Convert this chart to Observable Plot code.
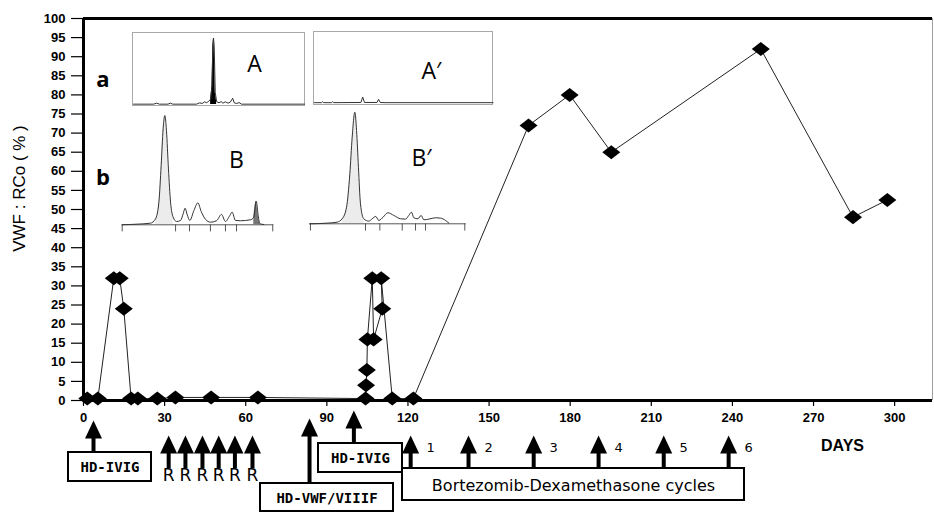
<!DOCTYPE html>
<html><head><meta charset="utf-8">
<script src="https://cdn.jsdelivr.net/npm/d3@7"></script>
<script src="https://cdn.jsdelivr.net/npm/@observablehq/plot@0.6"></script>
<style>
body{margin:0;background:#fff;}
#wrap{position:relative;width:934px;height:518px;overflow:hidden;background:#fff;}
#wrap > svg{position:absolute;left:0;top:0;}
.inset{position:absolute;box-sizing:border-box;}
.inset svg{display:block;background:transparent;}
.boxed{border:1px solid #a9a9a9;}
</style></head>
<body><div id="wrap"></div>
<script>
// ---------- main series ----------
const days   = [1.4, 5.3, 11.2, 13.4, 14.9, 17.6, 20.1, 27.3, 34, 47.2, 64.5,
                104.3, 104.5, 104.8, 105, 106.8, 107.3, 110.5, 110.1, 114.2, 122,
                164.6, 179.8, 195.2, 250.5, 284.6, 297.3];
const vwfRCo = [0.5, 0.5, 32, 32, 24, 0.5, 0.5, 0.5, 0.8, 0.8, 0.8,
                0.5, 4, 8, 16, 32, 16, 24, 32, 0.5, 0.5,
                72, 80, 65, 92, 48, 52.5];
const yTicks = d3.range(0, 101, 5);
const xTicks = d3.range(0, 301, 30);

// ---------- treatments ----------
const ivigDays = [3.7, 100];
const rituximabDays = [31.5, 37.7, 44, 50, 56, 62.5];
const vwfConcentrateDays = [83.6];
const bortezomibDays = [121, 142.4, 166.5, 190.5, 214.6, 238.6];
const cycleLabels = ["1", "2", "3", "4", "5", "6"];
const boxLabels = ["HD-IVIG", "HD-VWF/VIIIF", "HD-IVIG", "Bortezomib-Dexamethasone cycles"];

// ---------- inset densitometry traces (mobility, intensity) ----------
const traceA_m = [0, 11.7, 13.6, 15.1, 20.2, 21.5, 23, 36.8, 38.7, 40.2, 41.5, 42.9, 44, 45.1, 45.9, 46.4, 46.8, 47.2, 47.8, 48.6, 50, 51.2, 52.3, 53.8, 55.3, 56.6, 58, 58.9, 60.4, 61.7, 63.2, 100];
const traceA_i = [0.5, 0.5, 2, 0.5, 0.5, 2, 0.5, 0.5, 2.5, 1.5, 4, 2.5, 5.4, 7.4, 28, 87.6, 100, 87.6, 18.3, 4.5, 2.5, 4.5, 2, 4, 2, 3.5, 9.4, 2.5, 1.5, 3, 0.5, 0.5];
const traceA2_m = [0, 4, 4.6, 5.2, 9.6, 10.2, 10.8, 26, 27, 28, 35, 35.9, 36.8, 40, 100];
const traceA2_i = [0.5, 0.5, 2, 0.5, 0.5, 2, 0.5, 0.8, 9, 0.8, 0.8, 5.5, 0.8, 0.5, 0.5];
const traceB_m = [0, 9.9, 18.7, 22, 24.2, 25.7, 27, 28.1, 29.2, 30.5, 31.9, 33.6, 35.8, 38.5, 40.2, 41.5, 42.9, 44.6, 47.3, 49.9, 52.1, 55, 58.2, 62.2, 65.5, 68.1, 71, 72.5, 74.7, 78, 84.6, 86.8, 88.4, 89.7, 90.8, 93.4];
const traceB_i = [0, 0.6, 1.5, 5.5, 20.7, 54.3, 87.8, 100, 86.3, 51.2, 20.7, 7, 3, 4, 10, 15.2, 9.1, 4, 13.1, 20.1, 12.2, 4.9, 2.4, 3.7, 9.5, 3, 8.5, 11.6, 4, 3.7, 4.6, 7, 21.6, 8.5, 0.9, 0.3];
const traceB_ticks = [0, 35.2, 44.4, 58.2, 68.1, 75.4, 99.3];
const traceB2_m = [0, 11.1, 17.5, 20.7, 23.5, 25.6, 27.1, 28.8, 29.9, 31.1, 32.4, 34.5, 37.7, 39.9, 42.2, 44.1, 46.9, 49.9, 53.7, 58, 61.2, 63.3, 65, 66.5, 69.1, 71.2, 72.9, 76.1, 80.4, 83.6, 86.8, 88.9];
const traceB2_i = [0, 0.6, 1.5, 4.5, 14.9, 44.8, 77.6, 100, 83.6, 50.7, 17.9, 4.5, 2.4, 4.5, 6.6, 3, 6, 9.9, 7.5, 4.5, 4.2, 7.5, 10.4, 5.4, 4.5, 7.5, 3.6, 4.2, 5.4, 5.1, 3, 0.6];
const traceB2_ticks = [0.4, 35.6, 44.8, 59.1, 67.6, 74, 99.1];

// ---------- layout ----------
const W = 934, H = 518, ML = 83, MR = 2, MT = 18, MB = 118;
const XMAX = 314;
const sx = (W - ML - MR) / XMAX;
const sy = (H - MT - MB) / 100;
const dayAt = px => (px - ML) / sx;
const valAt = py => (H - MB - py) / sy;

const series = days.map((d, i) => ({day: d, v: vwfRCo[i]}));

const diamond = {draw(ctx, size) {
  const r = Math.sqrt(size / Math.PI), h = r * 0.78;
  ctx.moveTo(0, -h); ctx.lineTo(r, 0); ctx.lineTo(0, h); ctx.lineTo(-r, 0); ctx.closePath();
}};
const head = {draw(ctx) {
  ctx.moveTo(0, 0); ctx.lineTo(8.5, 18); ctx.lineTo(-8.5, 18); ctx.closePath();
}};

const arrowGroups = [
  {days: ivigDays.slice(0, 1), tip: 420, base: 452},
  {days: rituximabDays, tip: 435, base: 468},
  {days: vwfConcentrateDays, tip: 418, base: 483},
  {days: ivigDays.slice(1), tip: 410, base: 443},
  {days: bortezomibDays, tip: 435, base: 468}
];
const boxes = [
  {x1: 68, x2: 151, y1: 452, y2: 481, mono: true},
  {x1: 260, x2: 393, y1: 483, y2: 511, mono: true},
  {x1: 318, x2: 402, y1: 443, y2: 472, mono: true},
  {x1: 402, x2: 744, y1: 468, y2: 500, mono: false}
].map((b, i) => ({...b, label: boxLabels[i]}));

const arrowMarks = arrowGroups.flatMap(g => [
  Plot.ruleX(g.days, {x: d => d, y1: valAt(g.tip + 14), y2: valAt(g.base), stroke: "black", strokeWidth: 4}),
  Plot.dot(g.days, {x: d => d, y: valAt(g.tip), symbol: head, fill: "black", stroke: "none", r: 5})
]);

const plot = Plot.plot({
  width: W, height: H,
  marginLeft: ML, marginRight: MR, marginTop: MT, marginBottom: MB,
  x: {domain: [0, XMAX]},
  y: {domain: [0, 100]},
  style: {fontFamily: "'Liberation Sans', Arial, sans-serif", fontSize: "13px", background: "transparent", overflow: "visible", color: "black"},
  marks: [
    Plot.ruleY([100], {stroke: "black", strokeWidth: 3}),
    Plot.ruleX([XMAX], {stroke: "#a0a0a0", strokeWidth: 1}),
    Plot.axisY({ticks: yTicks, tickSize: 12, tickPadding: 6, label: null, fontWeight: "bold", fontSize: 13, strokeWidth: 1.2}),
    Plot.axisX({ticks: xTicks, tickSize: 6, tickPadding: 6, label: null, fontWeight: "bold", fontSize: 13, strokeWidth: 1.2}),
    Plot.text(["VWF : RCo ( % )"], {text: d => d, x: dayAt(19), y: valAt(188), rotate: -90, fontSize: 17, textAnchor: "middle", lineAnchor: "middle"}),
    Plot.line(series, {x: "day", y: "v", stroke: "#222", strokeWidth: 1}),
    Plot.dot(series, {x: "day", y: "v", symbol: diamond, r: 9, fill: "black", stroke: "none"}),
    Plot.ruleX([0], {stroke: "black", strokeWidth: 3}),
    Plot.ruleY([0], {stroke: "black", strokeWidth: 3}),
    // annotation boxes
    Plot.rect(boxes, {x1: d => dayAt(d.x1), x2: d => dayAt(d.x2), y1: d => valAt(d.y1), y2: d => valAt(d.y2), fill: "white", stroke: "black", strokeWidth: 2}),
    Plot.text(boxes.filter(b => b.mono), {text: "label", x: d => dayAt((d.x1 + d.x2) / 2), y: d => valAt((d.y1 + d.y2) / 2 + 1), fontFamily: "'DejaVu Sans Mono', monospace", fontWeight: "bold", fontSize: 14}),
    Plot.text(boxes.filter(b => !b.mono), {text: "label", x: d => dayAt((d.x1 + d.x2) / 2), y: d => valAt((d.y1 + d.y2) / 2 + 1), fontFamily: "'DejaVu Sans', sans-serif", fontSize: 16}),
    ...arrowMarks,
    Plot.text(rituximabDays, {text: () => "R", x: d => d, y: valAt(475), fontFamily: "'DejaVu Sans', sans-serif", fontSize: 17}),
    Plot.text(bortezomibDays, {text: (d, i) => cycleLabels[i], x: d => d, dx: 20, y: valAt(447), fontFamily: "'DejaVu Sans', sans-serif", fontSize: 13}),
    Plot.text(["DAYS"], {text: d => d, x: dayAt(842), y: valAt(445), fontWeight: "bold", fontSize: 16}),
    // inset labels
    Plot.text(["a", "b"], {text: d => d, x: dayAt(102.5), y: (d, i) => valAt([79, 177][i]), fontFamily: "'Open Sans', sans-serif", fontWeight: "bold", fontSize: 22}),
    Plot.text(["A", "A\u2032", "B", "B\u2032"], {text: d => d, x: (d, i) => dayAt([254, 431, 236, 421][i]), y: (d, i) => valAt([64, 71, 160, 158][i]), fontFamily: "'Open Sans', sans-serif", fontSize: 23})
  ]
});
const wrap = document.getElementById("wrap");
wrap.append(plot);

// ---------- insets ----------
function trace({m, v, left, top, width, height, ml, mr, mt, mb, boxed, ticks, fills, curve}) {
  const data = m.map((d, i) => ({m: d, v: v[i]}));
  const marks = [];
  for (const f of fills) marks.push(Plot.areaY(data, {filter: d => d.m >= f.from && d.m <= f.to, x: "m", y: "v", fill: f.fill, curve}));
  if (ticks) {
    marks.push(Plot.ruleY([0], {stroke: "#555", strokeWidth: 1}));
    marks.push(Plot.ruleX(ticks, {x: d => d, y1: 0, y2: -6.5, stroke: "#555", strokeWidth: 1}));
  }
  marks.push(Plot.line(data, {x: "m", y: "v", stroke: "#333", strokeWidth: 1, curve}));
  const p = Plot.plot({
    width, height, marginLeft: ml, marginRight: mr, marginTop: mt, marginBottom: mb,
    x: {domain: [0, 100], axis: null}, y: {domain: [0, 100], axis: null},
    style: {background: "transparent", overflow: "visible"},
    marks
  });
  const div = document.createElement("div");
  div.className = "inset" + (boxed ? " boxed" : "");
  Object.assign(div.style, {left: left + "px", top: top + "px"});
  div.append(p);
  wrap.append(div);
}
trace({m: traceA_m, v: traceA_i, left: 131.5, top: 31.5, width: 171, height: 72.5, ml: 0, mr: 0, mt: 4.5, mb: 1.5, boxed: true,
       fills: [{from: 45.1, to: 48.6, fill: "black"}], curve: "linear"});
trace({m: traceA2_m, v: traceA2_i, left: 312.5, top: 30.5, width: 178.5, height: 72, ml: 0, mr: 0, mt: 4.5, mb: 1.5, boxed: true,
       fills: [], curve: "linear"});
trace({m: traceB_m, v: traceB_i, left: 115, top: 105, width: 165, height: 130, ml: 6.7, mr: 6.7, mt: 10, mb: 10.7,
       ticks: traceB_ticks, fills: [{from: 22, to: 33.6, fill: "#ececec"}, {from: 86.8, to: 90.8, fill: "#777"}], curve: "monotone-x"});
trace({m: traceB2_m, v: traceB2_i, left: 300, top: 100, width: 175, height: 135, ml: 9.3, mr: 9.3, mt: 11.7, mb: 11.7,
       ticks: traceB2_ticks, fills: [{from: 20.7, to: 34.5, fill: "#ececec"}], curve: "monotone-x"});
</script></body></html>
